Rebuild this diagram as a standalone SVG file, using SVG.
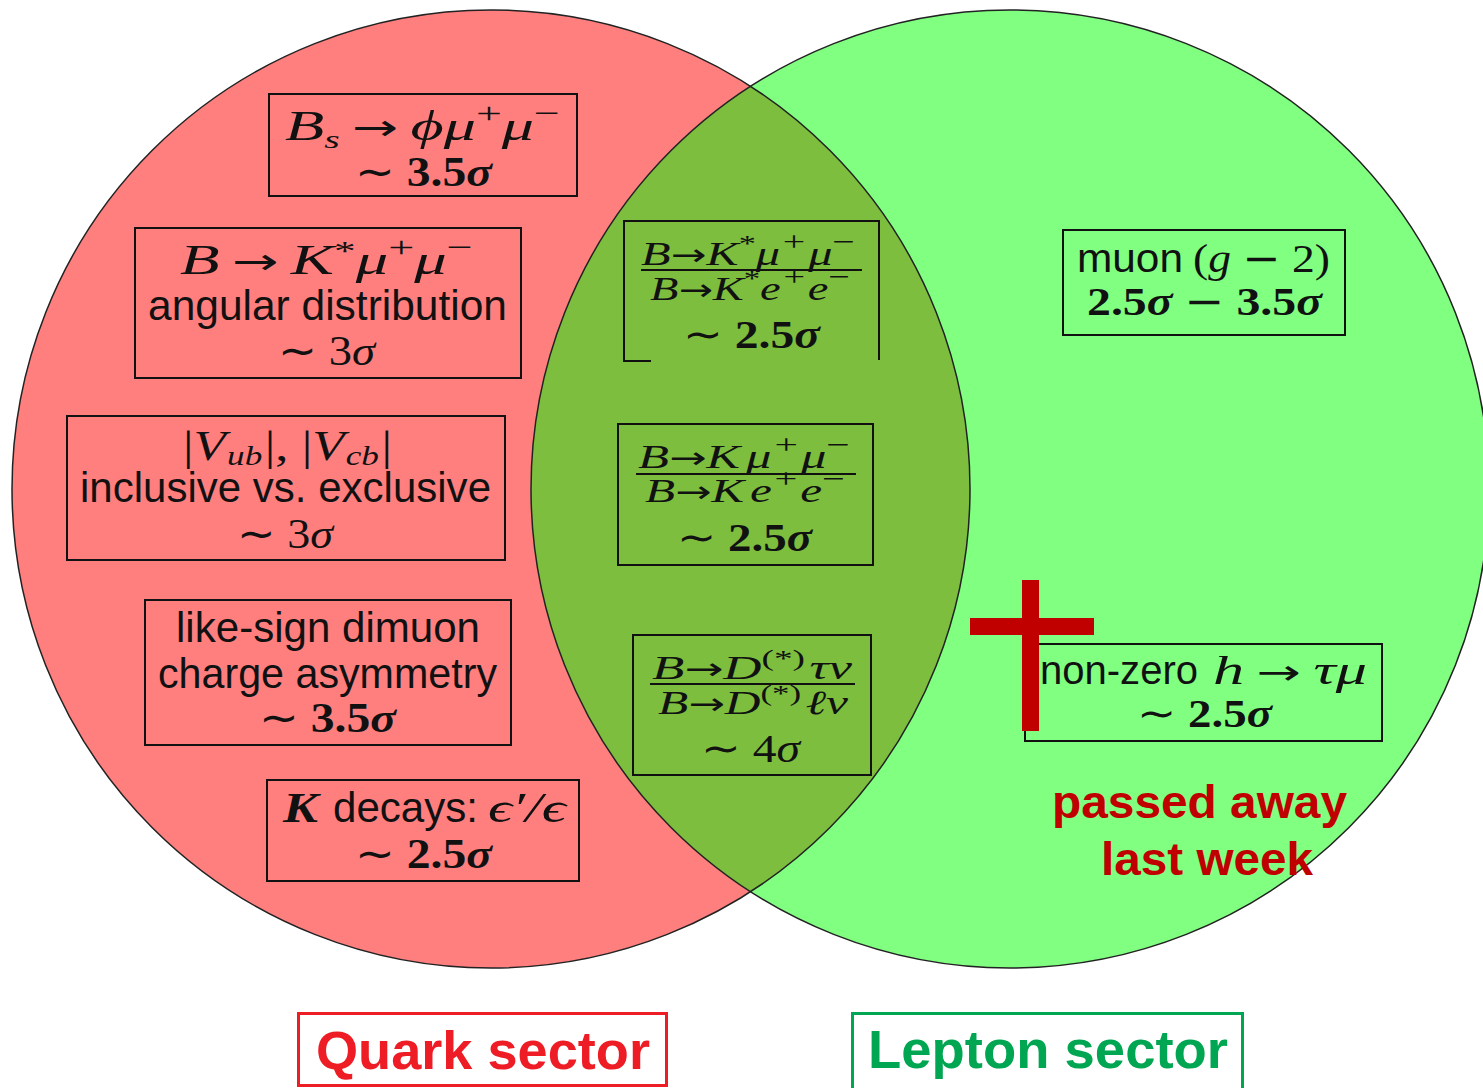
<svg xmlns="http://www.w3.org/2000/svg" width="1483" height="1088" viewBox="0 0 1483 1088">
<style>
.m{font-family:"Liberation Serif","DejaVu Serif",serif;fill:#111}
.s{font-family:"Liberation Sans",Arial,sans-serif;fill:#111}
.i{font-style:italic}
.b{font-weight:bold}
.ar{font-family:"DejaVu Sans",sans-serif;font-style:normal;font-weight:normal}
.box{fill:none;stroke:#111;stroke-width:2}
.edge{fill:none;stroke:#222;stroke-width:1.5}
.red{fill:#c00000;font-family:"Liberation Sans",Arial,sans-serif;font-weight:bold}
</style>
<defs>
<clipPath id="rc"><circle cx="1010" cy="489" r="479"/></clipPath>
</defs>
<rect width="1483" height="1088" fill="#ffffff"/>
<g id="circles">
<circle cx="491" cy="489" r="479" fill="#ff7f7f"/>
<circle cx="1010" cy="489" r="479" fill="#80ff80"/>
<circle cx="491" cy="489" r="479" fill="#7dbe3f" clip-path="url(#rc)"/>
<circle cx="491" cy="489" r="479" class="edge"/>
<circle cx="1010" cy="489" r="479" class="edge"/>
</g>
<g id="connectors"></g>
<g id="n-bsphi">
<rect x="269" y="94" width="308" height="102" class="box"/>
<text x="285" y="140" textLength="275" lengthAdjust="spacingAndGlyphs" class="m" font-size="42"><tspan class="i">B</tspan><tspan class="i" font-size="26" dy="8">s</tspan><tspan dy="-8" dx="8" class="ar" font-size="36">→</tspan><tspan class="i" dx="8">ϕμ</tspan><tspan font-size="30" dy="-17">+</tspan><tspan class="i" dy="17">μ</tspan><tspan font-size="30" dy="-17">−</tspan></text>
<text x="355" y="186" textLength="137" lengthAdjust="spacingAndGlyphs" class="m b" font-size="42"><tspan class="ar">∼</tspan> 3.5<tspan class="i">σ</tspan></text>
</g>
<g id="n-bkstar">
<rect x="135" y="228" width="386" height="150" class="box"/>
<text x="180" y="274" textLength="293" lengthAdjust="spacingAndGlyphs" class="m" font-size="42"><tspan class="i">B</tspan><tspan class="ar" font-size="36" dx="8">→</tspan><tspan class="i" dx="8">K</tspan><tspan font-size="28" dy="-14">*</tspan><tspan class="i" dy="14">μ</tspan><tspan font-size="30" dy="-17">+</tspan><tspan class="i" dy="17">μ</tspan><tspan font-size="30" dy="-17">−</tspan></text>
<text x="148" y="320" textLength="359" lengthAdjust="spacingAndGlyphs" class="s" font-size="42">angular distribution</text>
<text x="278" y="365" textLength="97" lengthAdjust="spacingAndGlyphs" class="m" font-size="42"><tspan class="ar">∼</tspan> 3<tspan class="i">σ</tspan></text>
</g>
<g id="n-vub">
<rect x="67" y="416" width="438" height="144" class="box"/>
<text x="183" y="460" textLength="209" lengthAdjust="spacingAndGlyphs" class="m" font-size="42">|<tspan class="i">V</tspan><tspan class="i" font-size="28" dy="5" dx="1">ub</tspan><tspan dy="-5" dx="2">|, |</tspan><tspan class="i">V</tspan><tspan class="i" font-size="28" dy="5" dx="1">cb</tspan><tspan dy="-5" dx="2">|</tspan></text>
<text x="80" y="502" textLength="411" lengthAdjust="spacingAndGlyphs" class="s" font-size="42">inclusive vs. exclusive</text>
<text x="237" y="548" textLength="96" lengthAdjust="spacingAndGlyphs" class="m" font-size="42"><tspan class="ar">∼</tspan> 3<tspan class="i">σ</tspan></text>
</g>
<g id="n-dimuon">
<rect x="145" y="600" width="366" height="145" class="box"/>
<text x="176" y="642" textLength="304" lengthAdjust="spacingAndGlyphs" class="s" font-size="42">like-sign dimuon</text>
<text x="158" y="688" textLength="339" lengthAdjust="spacingAndGlyphs" class="s" font-size="42">charge asymmetry</text>
<text x="259" y="732" textLength="137" lengthAdjust="spacingAndGlyphs" class="m b" font-size="42"><tspan class="ar">∼</tspan> 3.5<tspan class="i">σ</tspan></text>
</g>
<g id="n-kdecay">
<rect x="267" y="780" width="312" height="101" class="box"/>
<text x="283" y="822" textLength="35" lengthAdjust="spacingAndGlyphs" class="m i b" font-size="42">K</text>
<text x="333" y="822" textLength="145" lengthAdjust="spacingAndGlyphs" class="s" font-size="42">decays:</text>
<text x="488" y="822" textLength="78" lengthAdjust="spacingAndGlyphs" class="m i" font-size="42">ϵ′/ϵ</text>
<text x="355" y="868" textLength="137" lengthAdjust="spacingAndGlyphs" class="m b" font-size="42"><tspan class="ar">∼</tspan> 2.5<tspan class="i">σ</tspan></text>
</g>
<g id="n-rkstar">
<path d="M651 361 H624 V221 H879 V360" class="box"/>
<text x="641" y="265" textLength="214" lengthAdjust="spacingAndGlyphs" class="m" font-size="34"><tspan class="i">B</tspan><tspan class="ar" font-size="30">→</tspan><tspan class="i">K</tspan><tspan font-size="24" dy="-14">*</tspan><tspan class="i" dy="14">μ</tspan><tspan font-size="28" dy="-14" dx="2">+</tspan><tspan class="i" dy="14" dx="2">μ</tspan><tspan font-size="28" dy="-14">−</tspan></text>
<line x1="641" y1="270" x2="862" y2="270" stroke="#111" stroke-width="2"/>
<text x="650" y="300" textLength="200" lengthAdjust="spacingAndGlyphs" class="m" font-size="34"><tspan class="i">B</tspan><tspan class="ar" font-size="30">→</tspan><tspan class="i">K</tspan><tspan font-size="24" dy="-14">*</tspan><tspan class="i" dy="14">e</tspan><tspan font-size="28" dy="-14" dx="2">+</tspan><tspan class="i" dy="14" dx="2">e</tspan><tspan font-size="28" dy="-14">−</tspan></text>
<text x="683" y="348" textLength="137" lengthAdjust="spacingAndGlyphs" class="m b" font-size="40"><tspan class="ar">∼</tspan> 2.5<tspan class="i">σ</tspan></text>
</g>
<g id="n-rk">
<rect x="618" y="424" width="255" height="141" class="box"/>
<text x="638" y="468" textLength="212" lengthAdjust="spacingAndGlyphs" class="m" font-size="34"><tspan class="i">B</tspan><tspan class="ar" font-size="30">→</tspan><tspan class="i">K</tspan><tspan class="i" dx="4">μ</tspan><tspan font-size="28" dy="-14" dx="2">+</tspan><tspan class="i" dy="14" dx="2">μ</tspan><tspan font-size="28" dy="-14">−</tspan></text>
<line x1="636" y1="474" x2="856" y2="474" stroke="#111" stroke-width="2"/>
<text x="645" y="502" textLength="200" lengthAdjust="spacingAndGlyphs" class="m" font-size="34"><tspan class="i">B</tspan><tspan class="ar" font-size="30">→</tspan><tspan class="i">K</tspan><tspan class="i" dx="4">e</tspan><tspan font-size="28" dy="-14" dx="2">+</tspan><tspan class="i" dy="14" dx="2">e</tspan><tspan font-size="28" dy="-14">−</tspan></text>
<text x="677" y="551" textLength="135" lengthAdjust="spacingAndGlyphs" class="m b" font-size="40"><tspan class="ar">∼</tspan> 2.5<tspan class="i">σ</tspan></text>
</g>
<g id="n-rd">
<rect x="633" y="635" width="238" height="140" class="box"/>
<text x="652" y="679" textLength="200" lengthAdjust="spacingAndGlyphs" class="m" font-size="34"><tspan class="i">B</tspan><tspan class="ar" font-size="30">→</tspan><tspan class="i">D</tspan><tspan font-size="24" dy="-13">(*)</tspan><tspan class="i" dy="13" dx="3">τν</tspan></text>
<line x1="650" y1="684" x2="855" y2="684" stroke="#111" stroke-width="2"/>
<text x="658" y="714" textLength="190" lengthAdjust="spacingAndGlyphs" class="m" font-size="34"><tspan class="i">B</tspan><tspan class="ar" font-size="30">→</tspan><tspan class="i">D</tspan><tspan font-size="24" dy="-13">(*)</tspan><tspan class="i" dy="13" dx="3">ℓν</tspan></text>
<text x="701" y="762" textLength="99" lengthAdjust="spacingAndGlyphs" class="m" font-size="40"><tspan class="ar">∼</tspan> 4<tspan class="i">σ</tspan></text>
</g>
<g id="n-muon">
<rect x="1063" y="230" width="282" height="105" class="box"/>
<text x="1077" y="272" textLength="106" lengthAdjust="spacingAndGlyphs" class="s" font-size="40">muon</text>
<text x="1193" y="272" textLength="137" lengthAdjust="spacingAndGlyphs" class="m" font-size="40">(<tspan class="i">g</tspan> <tspan class="ar">−</tspan> 2)</text>
<text x="1087" y="315" textLength="235" lengthAdjust="spacingAndGlyphs" class="m b" font-size="40">2.5<tspan class="i">σ</tspan> <tspan class="ar">−</tspan> 3.5<tspan class="i">σ</tspan></text>
</g>
<g id="n-htaumu">
<rect x="1025" y="644" width="357" height="97" class="box"/>
<text x="1040" y="684" textLength="158" lengthAdjust="spacingAndGlyphs" class="s" font-size="40">non-zero</text>
<text x="1213" y="684" textLength="154" lengthAdjust="spacingAndGlyphs" class="m" font-size="40"><tspan class="i">h</tspan><tspan class="ar" font-size="34" dx="8">→</tspan><tspan class="i" dx="8">τμ</tspan></text>
<text x="1137" y="727" textLength="135" lengthAdjust="spacingAndGlyphs" class="m b" font-size="40"><tspan class="ar">∼</tspan> 2.5<tspan class="i">σ</tspan></text>
</g>
<g id="cross">
<rect x="1022" y="580" width="17" height="151" fill="#c00000"/>
<rect x="970" y="618" width="124" height="17" fill="#c00000"/>
</g>
<g id="n-passed">
<text x="1052" y="818" textLength="295" lengthAdjust="spacingAndGlyphs" class="red" font-size="47">passed away</text>
<text x="1101" y="875" textLength="212" lengthAdjust="spacingAndGlyphs" class="red" font-size="47">last week</text>
</g>
<g id="n-quark">
<rect x="298.5" y="1013.5" width="368" height="72" fill="none" stroke="#ee1c25" stroke-width="3"/>
<text x="316" y="1069" textLength="334" lengthAdjust="spacingAndGlyphs" font-family="Liberation Sans, Arial, sans-serif" font-weight="bold" font-size="54" fill="#ee1c25">Quark sector</text>
</g>
<g id="n-lepton">
<rect x="852.5" y="1013.5" width="390" height="80" fill="none" stroke="#00a651" stroke-width="3"/>
<text x="868" y="1068" textLength="360" lengthAdjust="spacingAndGlyphs" font-family="Liberation Sans, Arial, sans-serif" font-weight="bold" font-size="54" fill="#00a651">Lepton sector</text>
</g>
</svg>
